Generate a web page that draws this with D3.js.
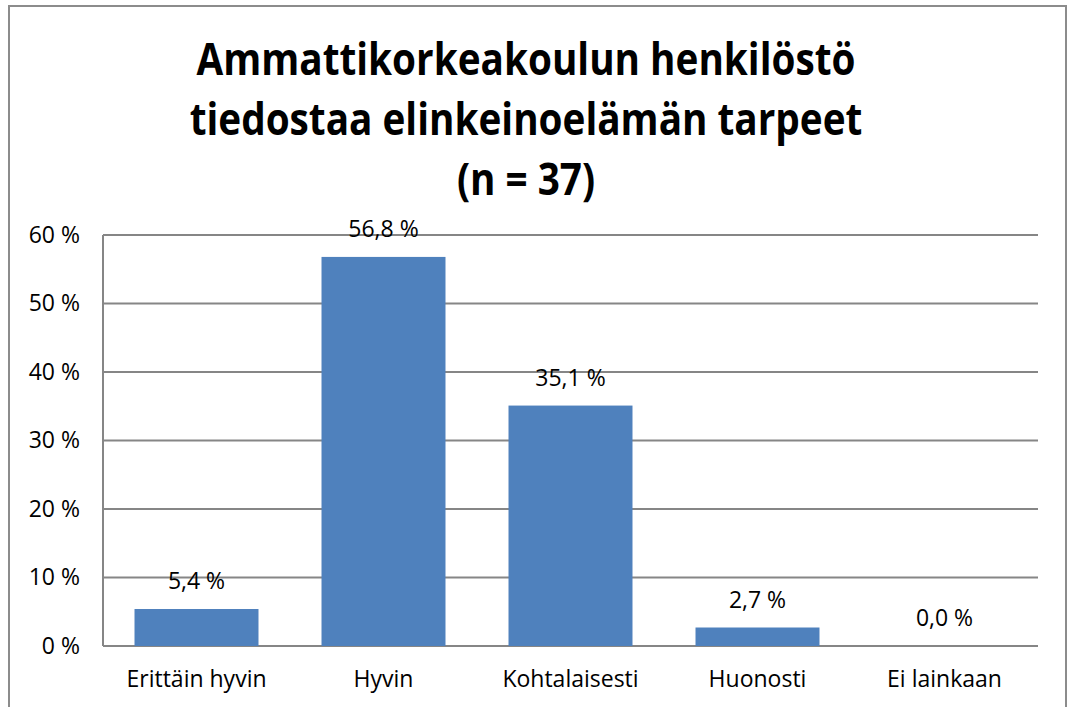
<!DOCTYPE html>
<html lang="fi">
<head>
    <meta charset="UTF-8">
    <title>Ammattikorkeakoulun henkilöstö</title>
    <script src="https://d3js.org/d3.v7.min.js"></script>
    <style>
        body { margin: 0; background: #fff; }
        svg text { font-family: "Open Sans", "Noto Sans", sans-serif; fill: #000; }
        .title { font-weight: bold; font-size: 44px; }
        .label { font-size: 23px; }
        .grid line { stroke: #868686; stroke-width: 2; }
    </style>
</head>
<body>
    <svg id="chart" width="1069" height="707"></svg>
    <script>
        // Data
        const categories = ["Erittäin hyvin", "Hyvin", "Kohtalaisesti", "Huonosti", "Ei lainkaan"];
        const values = [5.4, 56.8, 35.1, 2.7, 0.0];
        const yTicks = [0, 10, 20, 30, 40, 50, 60];
        const titleLines = ["Ammattikorkeakoulun henkilöstö", "tiedostaa elinkeinoelämän tarpeet", "(n = 37)"];

        const svg = d3.select("#chart");
        const margin = { top: 235, right: 31, bottom: 61, left: 103 };
        const width = 1069 - margin.left - margin.right;
        const height = 707 - margin.top - margin.bottom;

        // outer border
        svg.append("rect")
            .attr("x", 9).attr("y", 6)
            .attr("width", 1057).attr("height", 720)
            .attr("fill", "none")
            .attr("stroke", "#8c8c8c")
            .attr("stroke-width", 2);

        // title (squeezed a bit horizontally, the original font is narrow)
        svg.append("g")
            .attr("transform", "translate(526,0) scale(0.88,1)")
            .append("text")
            .attr("class", "title")
            .attr("text-anchor", "middle")
            .selectAll("tspan")
            .data(titleLines)
            .enter().append("tspan")
            .attr("x", 0)
            .attr("y", (d, i) => 75 + i * 60)
            .text(d => d);

        const g = svg.append("g")
            .attr("transform", "translate(" + margin.left + "," + margin.top + ")");

        const x = d3.scaleBand()
            .domain(categories)
            .range([0, width])
            .paddingInner(0.337)
            .paddingOuter(0.1685);

        const y = d3.scaleLinear()
            .domain([0, 60])
            .range([height, 0]);

        // gridlines
        g.append("g")
            .attr("class", "grid")
            .selectAll("line")
            .data(yTicks)
            .enter().append("line")
            .attr("x1", 0)
            .attr("x2", width)
            .attr("y1", d => y(d))
            .attr("y2", d => y(d));

        // y axis line
        g.append("line")
            .attr("x1", 0).attr("x2", 0)
            .attr("y1", 0).attr("y2", height)
            .attr("stroke", "#868686")
            .attr("stroke-width", 2);

        // y axis labels
        const yAxis = g.append("g")
            .call(d3.axisLeft(y).tickValues(yTicks).tickSize(0).tickPadding(23).tickFormat(d => d + " %"));
        yAxis.select(".domain").remove();
        yAxis.selectAll("text")
            .style("font-size", "23px")
            .style("font-family", null);

        // bars
        g.selectAll(".bar")
            .data(values)
            .enter().append("rect")
            .attr("class", "bar")
            .attr("x", (d, i) => x(categories[i]))
            .attr("y", d => y(d))
            .attr("width", x.bandwidth())
            .attr("height", d => height - y(d))
            .attr("fill", "#4f81bd");

        // value labels
        g.selectAll(".value")
            .data(values)
            .enter().append("text")
            .attr("class", "label")
            .attr("text-anchor", "middle")
            .attr("x", (d, i) => x(categories[i]) + x.bandwidth() / 2)
            .attr("y", d => y(d) - 20)
            .text(d => d.toFixed(1).replace(".", ",") + " %");

        // x axis labels
        const xAxis = g.append("g")
            .attr("transform", "translate(0," + height + ")")
            .call(d3.axisBottom(x).tickSize(0).tickPadding(25));
        xAxis.select(".domain").remove();
        xAxis.selectAll("text")
            .style("font-size", "23px")
            .style("font-family", null);
    </script>
</body>
</html>
